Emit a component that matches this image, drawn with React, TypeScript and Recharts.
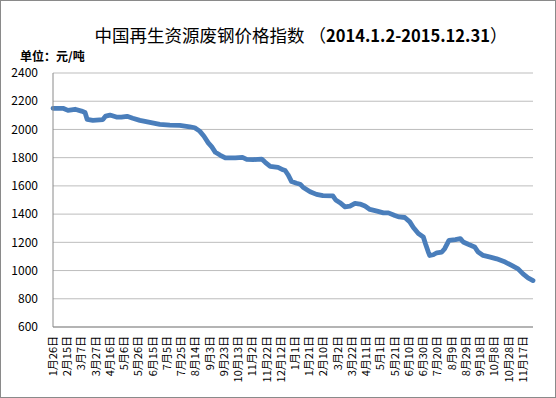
import React from 'react';
import { LineChart, Line, XAxis, YAxis, CartesianGrid } from 'recharts';

// day offsets from 2014-01-26 (first axis label)
const days = [0, 14, 21, 31, 40, 45, 48, 56, 70, 74, 80, 89, 96, 104, 112, 122, 136, 150, 164, 178, 192, 199, 206, 212, 218, 223, 228, 235, 242, 256, 266, 272, 281, 293, 298, 305, 316, 323, 326, 330, 335, 342, 347, 351, 361, 370, 379, 393, 397, 403, 410, 417, 424, 431, 438, 445, 455, 464, 471, 480, 486, 494, 501, 506, 513, 520, 523, 527, 529, 534, 539, 546, 550, 556, 565, 572, 576, 583, 592, 597, 604, 614, 623, 635, 644, 653, 660, 667, 674];
const prices = [2150, 2150, 2135, 2143, 2130, 2120, 2071, 2064, 2070, 2095, 2102, 2088, 2088, 2093, 2079, 2064, 2050, 2036, 2031, 2029, 2019, 2012, 1988, 1952, 1905, 1876, 1838, 1817, 1798, 1798, 1802, 1788, 1786, 1790, 1767, 1738, 1731, 1714, 1709, 1679, 1631, 1619, 1612, 1591, 1559, 1540, 1531, 1529, 1500, 1481, 1452, 1457, 1476, 1471, 1457, 1433, 1421, 1409, 1409, 1390, 1380, 1376, 1345, 1305, 1262, 1238, 1190, 1131, 1107, 1112, 1126, 1131, 1155, 1214, 1219, 1226, 1202, 1186, 1167, 1131, 1107, 1095, 1083, 1060, 1036, 1012, 976, 948, 929];

const tickLabels = ['1月26日', '2月15日', '3月7日', '3月27日', '4月16日', '5月6日', '5月26日', '6月15日', '7月5日', '7月25日', '8月14日', '9月3日', '9月23日', '10月13日', '11月2日', '11月22日', '12月12日', '1月1日', '1月21日', '2月10日', '3月2日', '3月22日', '4月11日', '5月1日', '5月21日', '6月10日', '6月30日', '7月20日', '8月9日', '8月29日', '9月18日', '10月8日', '10月28日', '11月17日'];
const tickDays = tickLabels.map((_, i) => i * 20);
const yTicks = [600, 800, 1000, 1200, 1400, 1600, 1800, 2000, 2200, 2400];

const data = days.map((d, i) => ({ day: d, price: prices[i] }));

const FONT = '"Noto Sans CJK SC", "Noto Sans", sans-serif';

const XTick = (props: any) => {
  const { x, y, payload } = props;
  const label = tickLabels[Math.round(payload.value / 20)] ?? '';
  return (
    <g transform={`translate(${x},${y})`}>
      <text transform="rotate(-90)" x={-9} y={0} dy="0.35em" textAnchor="end" fontSize={11} fill="#000" fontFamily={FONT}>
        {label}
      </text>
    </g>
  );
};

export default function App() {
  return (
    <div style={{ position: 'absolute', left: 0, top: 0, width: 556, height: 398, boxSizing: 'border-box', border: '1px solid #8a8a8a', background: '#fff' }}>
      <div style={{ position: 'absolute', left: -1, top: -1 }}>
        <LineChart width={556} height={398} data={data} margin={{ top: 73, right: 23, bottom: 11, left: 0 }}>
          <text x={301} y={42} textAnchor="middle" fontFamily={FONT} fontSize={17.5} fill="#000">
            <tspan>中国再生资源废钢价格指数 （</tspan>
            <tspan fontWeight="bold" fontSize={16.5}>2014.1.2-2015.12.31</tspan>
            <tspan>）</tspan>
          </text>
          <text x={20} y={61} fontFamily={FONT} fontSize={12} fontWeight="bold" fill="#000">单位：元/吨</text>
          <CartesianGrid horizontal vertical={false} stroke="#bdbdbd" strokeWidth={1} />
          <XAxis
            dataKey="day"
            type="number"
            domain={[0, 674]}
            ticks={tickDays}
            interval={0}
            tick={<XTick />}
            tickLine={false}
            tickSize={0}
            tickMargin={0}
            height={60}
            axisLine={{ stroke: '#8a8a8a' }}
          />
          <YAxis
            domain={[600, 2400]}
            ticks={yTicks}
            interval={0}
            width={53}
            tickLine={false}
            tickSize={0}
            tickMargin={15}
            axisLine={{ stroke: '#8a8a8a' }}
            tick={{ fontSize: 12, fill: '#000', fontFamily: FONT }}
          />
          <Line
            type="linear"
            dataKey="price"
            stroke="#4a7ebb"
            strokeWidth={4.8}
            strokeLinejoin="round"
            strokeLinecap="round"
            dot={false}
            isAnimationActive={false}
          />
        </LineChart>
      </div>
    </div>
  );
}
